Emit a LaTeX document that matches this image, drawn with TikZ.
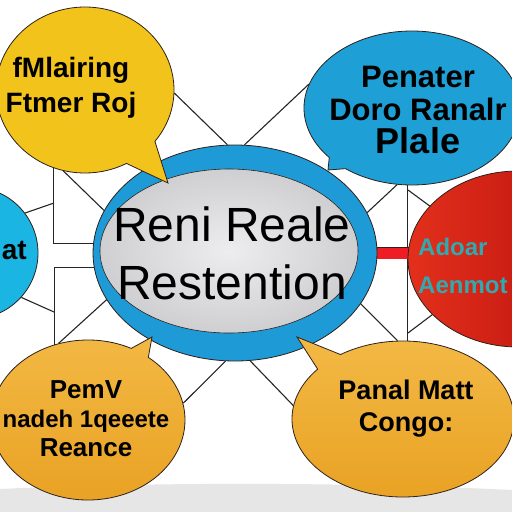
\documentclass[tikz,border=0pt]{standalone}
\usepackage{fontspec}
\setmainfont{Liberation Sans}
\usetikzlibrary{shapes.geometric,shapes.callouts,backgrounds}
\definecolor{outline}{HTML}{2E211C}
\definecolor{mlairgold}{HTML}{F2C31B}
\definecolor{penablue}{HTML}{1EA0D6}
\definecolor{ringblue}{HTML}{1E9AD6}
\definecolor{coregray}{HTML}{CFCFD2}
\definecolor{corelight}{HTML}{EDEDEF}
\definecolor{eatcyan}{HTML}{1AB5E2}
\definecolor{redlt}{HTML}{E3301C}
\definecolor{reddk}{HTML}{B20B0B}
\definecolor{barred}{HTML}{EE1C25}
\definecolor{adoarteal}{HTML}{2FAAB0}
\definecolor{orangetop}{HTML}{F3B945}
\definecolor{orangebot}{HTML}{E8A122}
\definecolor{floorgray}{HTML}{E6E6E6}
\tikzset{>=latex,
  rim/.style={draw=outline, line width=0.8pt},
  bubble/.style={ellipse callout, rim, inner sep=0pt},
  link/.style={draw=black!85, line width=1.1pt},
  words/.style={align=center, inner sep=0pt}
}

\begin{document}
\begin{tikzpicture}[x=1pt,y=-1pt]
\useasboundingbox (0,0) rectangle (512,512);

% middle ring
\node[ellipse, rim, fill=ringblue, minimum width=284, minimum height=216] (reni) at (235,253) {};
\node[ellipse, rim, line width=0.6pt, inner color=corelight, outer color=coregray,
  minimum width=258, minimum height=164] (core) at (229,251) {};
\node[words, font=\fontsize{48}{58}\selectfont] (renitext) at (232,253) {Reni Reale\\Restention};

% bubbles round it
\node[bubble, fill=mlairgold, minimum width=178, minimum height=166,
  callout absolute pointer={(168,183)}, callout pointer arc=24] (mlair) at (85,90) {};
\node[words, font=\bfseries\fontsize{28}{35}\selectfont] (mlairtext) at (71,88) {fMlairing\\Ftmer Roj};

\node[bubble, fill=penablue, minimum width=216, minimum height=154,
  callout absolute pointer={(328,170)}, callout pointer arc=12] (penater) at (412,108) {};
\node[words, font=\bfseries\fontsize{31}{33}\selectfont] (penatertext) at (418,110)
  {Penater\\Doro Ranalr\\{\fontsize{36}{36}\selectfont Plale}};

\node[ellipse, rim, left color=redlt, right color=reddk, minimum width=220, minimum height=176] (adoar) at (518,259) {};
\node[words, align=left, anchor=west, text=adoarteal, font=\bfseries\fontsize{24}{38}\selectfont] (adoartext) at (418,266) {Adoar\\Aenmot};

\node[circle, rim, fill=eatcyan, minimum size=132] (eat) at (-28,253) {};
\node[words, anchor=east, font=\bfseries\fontsize{28}{30}\selectfont] (eattext) at (27,250) {at};

\node[bubble, top color=orangetop, bottom color=orangebot, minimum width=194, minimum height=160,
  callout absolute pointer={(152,337)}, callout pointer arc=12] (pemv) at (88,420) {};
\node[words, font=\bfseries\fontsize{26}{29}\selectfont] (pemvtext) at (86,419)
  {PemV\\{\fontsize{24}{24}\selectfont nadeh 1qeeete}\\Reance};

\node[bubble, top color=orangetop, bottom color=orangebot, minimum width=222, minimum height=156,
  callout absolute pointer={(297,337)}, callout pointer arc=16] (panal) at (403,419) {};
\node[words, font=\bfseries\fontsize{27}{32}\selectfont] (panaltext) at (406,409) {Panal Matt\\Congo:};

\coordinate (lu) at (54,203);
\coordinate (ld) at (54,312);
\coordinate (ru) at (408,190);
\coordinate (rd) at (408,333);

\begin{scope}[on background layer]
\fill[white] (0,0) rectangle (512,512);
\fill[floorgray] (0,489) .. controls (150,482) and (350,482) .. (512,490) -- (512,512) -- (0,512) -- cycle;
% thin links
\draw[link] (mlair.-2) -- (reni.94);
\draw[link] (reni.85) -- (penater.167);
\draw[link] (mlair.-112) |- (reni.176);
\draw[link] (reni.186) -| (pemv.114);
\draw[link] (mlair.-105) -- (reni.162);
\draw[link] (pemv.111) -- (reni.200);
\draw[link] (eat.37) -- (lu);
\draw[link] (eat.-42) -- (ld);
\draw[link] (reni.265) -- (pemv.10);
\draw[link] (reni.278) -- (panal.173);
\draw[link] (reni.17) -- (penater.-101);
\draw[link] (penater.south -| adoar.west) -- (panal.north -| adoar.west);
\draw[link] (ru) -- (adoar.149);
\draw[link] (reni.-22) -- (panal.94);
\draw[link] (rd) -- (adoar.-147);
% red bar
\draw[outline, double=barred, double distance=11pt, line width=0.8pt]
  ([xshift=-4pt]reni.east) -- ([xshift=4pt]reni.east -| adoar.west);
\end{scope}

\end{tikzpicture}
\end{document}
